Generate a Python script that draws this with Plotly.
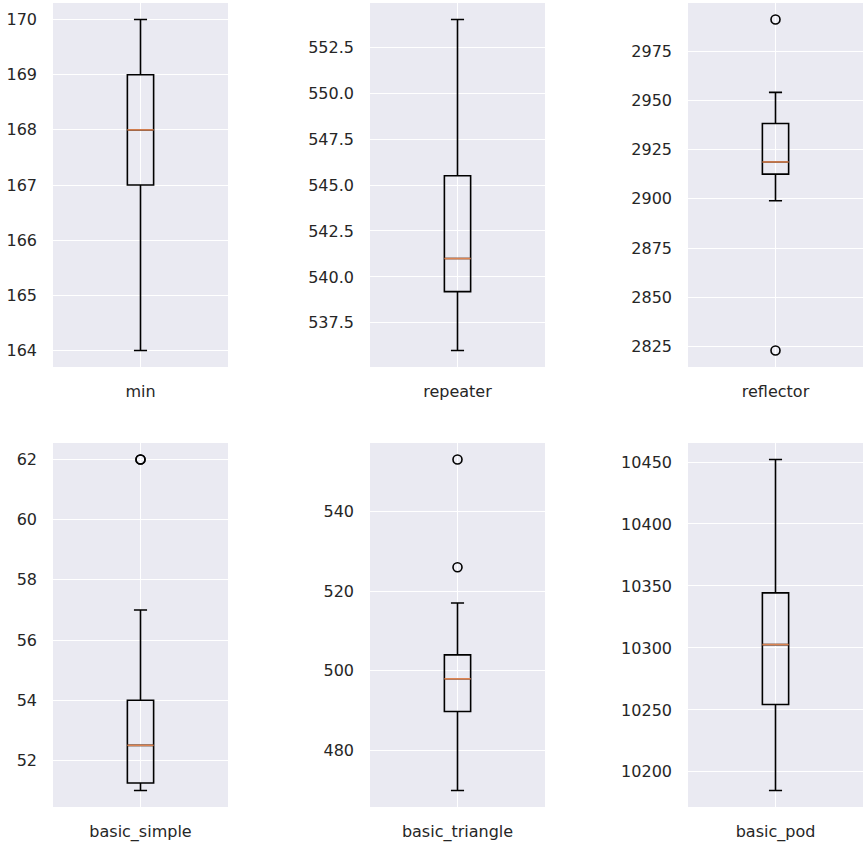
import plotly.graph_objects as go

# ---- data ----
names = ["min", "repeater", "reflector", "basic_simple", "basic_triangle", "basic_pod"]
lower_whisker = [164, 536.0, 2899, 51, 470, 10185]
q1_vals = [167, 539.2, 2912.5, 51.25, 489.8, 10254.3]
medians = [168, 541.0, 2918.7, 52.5, 498, 10302.7]
q3_vals = [169, 545.5, 2938.2, 54, 504, 10344.4]
upper_whisker = [170, 554.0, 2954, 57, 517, 10452]
outliers = [[], [], [2991, 2823], [62, 62], [553, 526], []]
tick_values = [
    [164, 165, 166, 167, 168, 169, 170],
    [537.5, 540.0, 542.5, 545.0, 547.5, 550.0, 552.5],
    [2825, 2850, 2875, 2900, 2925, 2950, 2975],
    [52, 54, 56, 58, 60, 62],
    [480, 500, 520, 540],
    [10200, 10250, 10300, 10350, 10400, 10450],
]
tick_formats = ["d", ".1f", "d", "d", "d", "d"]

W, H = 863, 843
x_px = [(53, 228), (370, 545), (688, 863)]
y_px = [(3, 367), (443, 807)]

BG = "#EAEAF2"
TXT = "#262626"
BOX_W = 0.15
FS = 16

fig = go.Figure()
layout = dict(
    width=W, height=H,
    margin=dict(l=0, r=0, t=0, b=0),
    paper_bgcolor="white",
    plot_bgcolor=BG,
    showlegend=False,
    font=dict(family="DejaVu Sans", size=FS, color=TXT),
)

for i, name in enumerate(names):
    r, c = divmod(i, 3)
    k = "" if i == 0 else str(i + 1)
    xa, ya = "x" + k, "y" + k
    fig.add_trace(go.Box(
        x=[1], q1=[q1_vals[i]], median=[medians[i]], q3=[q3_vals[i]],
        lowerfence=[lower_whisker[i]], upperfence=[upper_whisker[i]],
        width=BOX_W, whiskerwidth=0.5,
        line=dict(color="black", width=1.6),
        fillcolor="rgba(0,0,0,0)",
        boxpoints=False, hoverinfo="skip",
        xaxis=xa, yaxis=ya,
    ))
    fig.add_trace(go.Scatter(
        x=[1 - BOX_W / 2, 1 + BOX_W / 2], y=[medians[i], medians[i]],
        mode="lines", line=dict(color="#DD8452", width=1.6),
        hoverinfo="skip", xaxis=xa, yaxis=ya,
    ))
    if outliers[i]:
        fig.add_trace(go.Scatter(
            x=[1] * len(outliers[i]), y=outliers[i], mode="markers",
            marker=dict(symbol="circle-open", size=9, color="black",
                        line=dict(color="black", width=1.6)),
            hoverinfo="skip", xaxis=xa, yaxis=ya,
        ))
    allv = [lower_whisker[i], upper_whisker[i]] + outliers[i]
    lo, hi = min(allv), max(allv)
    pad = 0.05 * (hi - lo)
    x0, x1 = x_px[c]
    y0, y1 = y_px[r]
    layout["xaxis" + k] = dict(
        domain=[x0 / W, x1 / W], range=[0.5, 1.5], anchor=ya,
        tickvals=[1], ticktext=[name], showgrid=True, gridcolor="white",
        gridwidth=1.4, zeroline=False, showline=False, ticks="",
        ticklabelstandoff=13, tickfont=dict(size=FS, color=TXT),
    )
    layout["yaxis" + k] = dict(
        domain=[1 - y1 / H, 1 - y0 / H], range=[lo - pad, hi + pad], anchor=xa,
        tickvals=tick_values[i], tickformat=tick_formats[i],
        showgrid=True, gridcolor="white", gridwidth=1.4, zeroline=False,
        showline=False, ticks="", ticklabelstandoff=15,
        tickfont=dict(size=FS, color=TXT),
    )

fig.update_layout(**layout)
fig.write_html(
    "out.html",
    config={"displayModeBar": False},
    post_script="document.body.style.margin='0';document.body.style.overflow='hidden';",
)
